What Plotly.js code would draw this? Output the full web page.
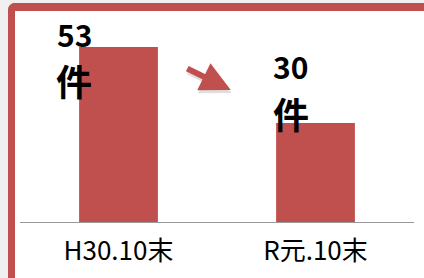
<!DOCTYPE html>
<html>
<head>
<meta charset="utf-8">
<script src="https://cdn.plot.ly/plotly-3.0.1.min.js"></script>
<style>
html,body{margin:0;padding:0;background:#f0f0f0;width:424px;height:278px;overflow:hidden;}
#frame{position:absolute;left:8px;top:3px;width:440px;height:290px;box-sizing:border-box;
border-left:7px solid #C0504D;border-top:8px solid #C0504D;border-bottom:7px solid #C0504D;
border-top-left-radius:7px;background:#fff;}
#chart{position:absolute;left:0;top:0;width:424px;height:278px;}
</style>
</head>
<body>
<div id="frame"></div>
<div id="chart"></div>
<script>
const categories = ["H30.10末", "R元.10末"];
const counts = [53, 30];
const unit = "件";

const numShiftX = [-64, -45];
const numShiftY = [37, 81];
const unitShiftX = [-65, -45];
const unitShiftY = [-5, 38];

const font = '"Noto Sans CJK JP", sans-serif';
const annotations = [];
categories.forEach((c, i) => {
  annotations.push({
    x: c, y: counts[i], xref: 'x', yref: 'y', text: String(counts[i]),
    showarrow: false, xanchor: 'left', yanchor: 'top',
    xshift: numShiftX[i], yshift: numShiftY[i],
    font: {family: font, size: 30, color: '#000', weight: 'bold'}
  });
  annotations.push({
    x: c, y: counts[i], xref: 'x', yref: 'y', text: unit,
    showarrow: false, xanchor: 'left', yanchor: 'top',
    xshift: unitShiftX[i], yshift: unitShiftY[i],
    font: {family: font, size: 36, color: '#000', weight: 'bold'}
  });
});

// shadow of arrow
annotations.push({
  xref: 'paper', yref: 'paper', x: 0.537, y: 0.652, ax: -45, ay: -22,
  showarrow: true, arrowhead: 2, arrowsize: 1, arrowwidth: 6,
  arrowcolor: 'rgba(0,0,0,0.12)', text: ''
});
annotations.push({
  xref: 'paper', yref: 'paper', x: 0.535, y: 0.667, ax: -45, ay: -22,
  showarrow: true, arrowhead: 2, arrowsize: 1, arrowwidth: 6,
  arrowcolor: '#C0504D', text: ''
});

const data = [{
  type: 'bar', x: categories, y: counts,
  marker: {color: '#C0504D'}, hoverinfo: 'none'
}];

const layout = {
  width: 424, height: 278,
  margin: {l: 20, r: 10, t: 24, b: 56},
  paper_bgcolor: 'rgba(0,0,0,0)', plot_bgcolor: 'rgba(0,0,0,0)',
  bargap: 0.6, showlegend: false,
  xaxis: {
    type: 'category', range: [-0.5, 1.5], showline: true, linecolor: '#999', linewidth: 1,
    ticks: '', showgrid: false, zeroline: false, ticklabelstandoff: 6,
    tickfont: {family: font, size: 26, color: '#000'}
  },
  yaxis: {range: [0, 60], visible: false, showgrid: false, zeroline: false},
  annotations: annotations
};

Plotly.newPlot('chart', data, layout, {staticPlot: true, displayModeBar: false});
</script>
</body>
</html>
